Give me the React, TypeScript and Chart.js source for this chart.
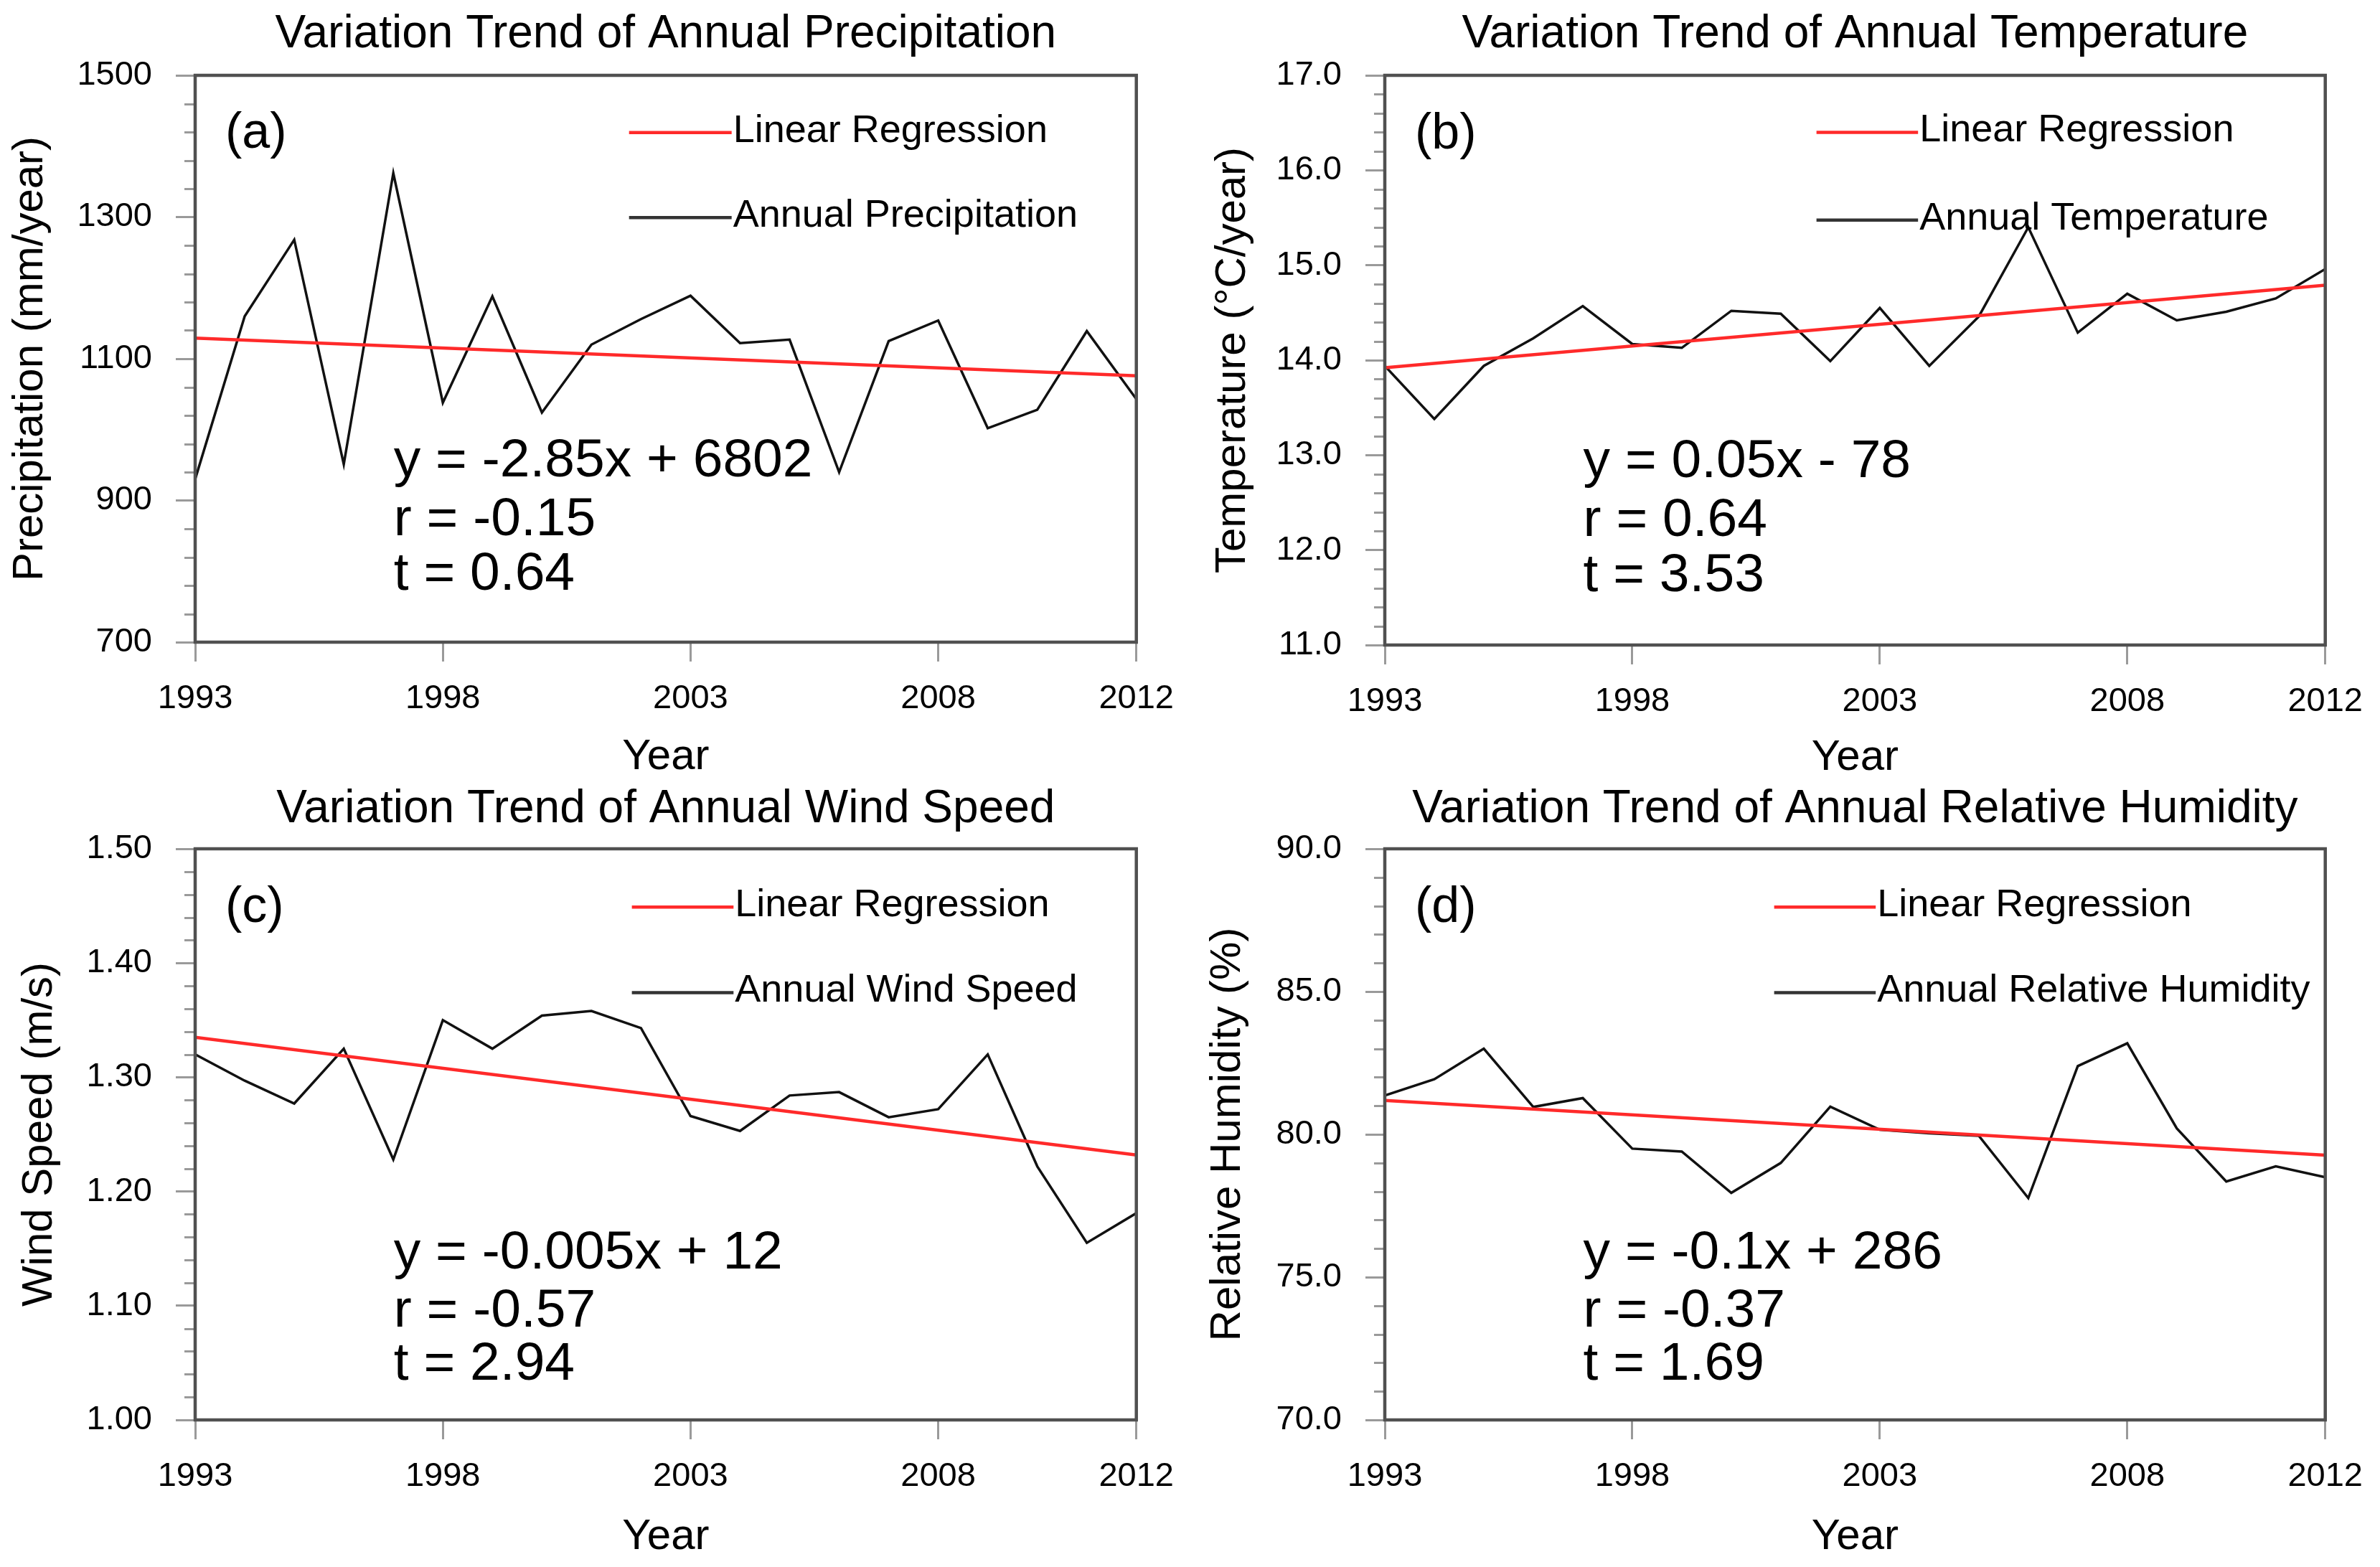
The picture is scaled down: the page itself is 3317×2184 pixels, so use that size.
import React, { useEffect, useRef } from 'react';
import { Chart, registerables } from 'chart.js';

Chart.register(...registerables);

// ---------------- data ----------------
const YEARS = [1993, 1994, 1995, 1996, 1997, 1998, 1999, 2000, 2001, 2002, 2003, 2004, 2005, 2006, 2007, 2008, 2009, 2010, 2011, 2012];
const X_TICKS = [1993, 1998, 2003, 2008, 2012];
const TREND_YEARS = [1993, 2012];

const PRECIP = [930, 1160, 1268, 951, 1362, 1038, 1188, 1024, 1120, 1156, 1189, 1122, 1127, 940, 1125, 1154, 1002, 1028, 1139, 1043];
const PRECIP_TREND = [1129, 1076];
const PRECIP_YTICKS = [700, 900, 1100, 1300, 1500];

const TEMP = [13.94, 13.38, 13.94, 14.23, 14.57, 14.17, 14.13, 14.52, 14.49, 13.99, 14.55, 13.94, 14.46, 15.4, 14.29, 14.7, 14.42, 14.51, 14.65, 14.96];
const TEMP_TREND = [13.92, 14.79];
const TEMP_YTICKS = [11, 12, 13, 14, 15, 16, 17];

const WIND = [1.32, 1.297, 1.277, 1.325, 1.228, 1.35, 1.325, 1.354, 1.358, 1.343, 1.266, 1.253, 1.284, 1.287, 1.265, 1.272, 1.32, 1.222, 1.155, 1.181];
const WIND_TREND = [1.335, 1.232];
const WIND_YTICKS = [1.0, 1.1, 1.2, 1.3, 1.4, 1.5];

const RH = [81.36, 81.93, 83.0, 80.96, 81.27, 79.5, 79.4, 77.95, 79.0, 80.97, 80.16, 80.04, 79.95, 77.77, 82.39, 83.19, 80.21, 78.35, 78.88, 78.5];
const RH_TREND = [81.19, 79.27];
const RH_YTICKS = [70, 75, 80, 85, 90];

// ---------------- layout / style ----------------
const FONT = "'Liberation Sans', Arial, Helvetica, sans-serif";
const TITLE_SIZE = 64;
const AXIS_TITLE_SIZE = 60;
const TICK_SIZE = 47;
const LEGEND_SIZE = 54;
const EQ_SIZE = 75;
const LABEL_SIZE = 70;
const RED = '#ff2a2a';
const BLACK = '#111111';
const FRAME = '#505050';
const TICK_GREY = '#9a9a9a';

type Panel = {
  tag: string;
  title: string;
  yTitle: string;
  seriesLabel: string;
  series: number[];
  trend: number[];
  yTicks: number[];
  dec: number;
  eq: string[];
  box: { cx: number; cy: number; w: number; h: number };
  plot: { l: number; r: number; t: number; b: number };
  titleY: number;
  yTitleX: number;
  xTitleY: number;
  leg: number[];
  eqY: number[];
};

const PANELS: Panel[] = [
  {
    tag: '(a)',
    title: 'Variation Trend of Annual Precipitation',
    yTitle: 'Precipitation (mm/year)',
    seriesLabel: 'Annual Precipitation',
    series: PRECIP,
    trend: PRECIP_TREND,
    yTicks: PRECIP_YTICKS,
    dec: 0,
    eq: ['y = -2.85x + 6802', 'r = -0.15', 't = 0.64'],
    box: { cx: 0, cy: 0, w: 1660, h: 1092 },
    plot: { l: 272, r: 1591, t: 105, b: 895 },
    titleY: 48,
    yTitleX: 42,
    xTitleY: 1055,
    leg: [0.461, 0.57, 0.101, 0.251],
    eqY: [0.708, 0.812, 0.908],
  },
  {
    tag: '(b)',
    title: 'Variation Trend of Annual Temperature',
    yTitle: 'Temperature (°C/year)',
    seriesLabel: 'Annual Temperature',
    series: TEMP,
    trend: TEMP_TREND,
    yTicks: TEMP_YTICKS,
    dec: 1,
    eq: ['y = 0.05x - 78', 'r = 0.64', 't = 3.53'],
    box: { cx: 1660, cy: 0, w: 1657, h: 1092 },
    plot: { l: 1930, r: 3257, t: 105, b: 899 },
    titleY: 48,
    yTitleX: 1718,
    xTitleY: 1059,
    leg: [0.459, 0.567, 0.1, 0.254],
    eqY: [0.705, 0.809, 0.905],
  },
  {
    tag: '(c)',
    title: 'Variation Trend of Annual Wind Speed',
    yTitle: 'Wind Speed (m/s)',
    seriesLabel: 'Annual Wind Speed',
    series: WIND,
    trend: WIND_TREND,
    yTicks: WIND_YTICKS,
    dec: 2,
    eq: ['y = -0.005x + 12', 'r = -0.57', 't = 2.94'],
    box: { cx: 0, cy: 1092, w: 1660, h: 1092 },
    plot: { l: 272, r: 1597, t: 1183, b: 1979 },
    titleY: 1128,
    yTitleX: 55,
    xTitleY: 2142,
    leg: [0.464, 0.572, 0.102, 0.252],
    eqY: [0.735, 0.837, 0.93],
  },
  {
    tag: '(d)',
    title: 'Variation Trend of Annual Relative Humidity',
    yTitle: 'Relative Humidity (%)',
    seriesLabel: 'Annual Relative Humidity',
    series: RH,
    trend: RH_TREND,
    yTicks: RH_YTICKS,
    dec: 1,
    eq: ['y = -0.1x + 286', 'r = -0.37', 't = 1.69'],
    box: { cx: 1660, cy: 1092, w: 1657, h: 1092 },
    plot: { l: 1930, r: 3257, t: 1183, b: 1979 },
    titleY: 1128,
    yTitleX: 1711,
    xTitleY: 2142,
    leg: [0.414, 0.522, 0.102, 0.252],
    eqY: [0.735, 0.837, 0.93],
  },
];

function makeOverlay(p: Panel) {
  return {
    id: 'overlay' + p.tag,
    afterDraw(chart: any) {
      const ctx = chart.ctx as CanvasRenderingContext2D;
      const a = chart.chartArea;
      const W = a.right - a.left;
      const H = a.bottom - a.top;
      const ys = chart.scales.y;
      ctx.save();
      // minor ticks on y axis
      ctx.strokeStyle = TICK_GREY;
      ctx.lineWidth = 3;
      for (let i = 0; i < p.yTicks.length - 1; i++) {
        const v0 = p.yTicks[i];
        const v1 = p.yTicks[i + 1];
        for (let k = 1; k < 5; k++) {
          const v = v0 + ((v1 - v0) * k) / 5;
          const py = Math.round(ys.getPixelForValue(v)) + 0.5;
          ctx.beginPath();
          ctx.moveTo(a.left - 15, py);
          ctx.lineTo(a.left, py);
          ctx.stroke();
        }
      }
      // frame
      ctx.strokeStyle = FRAME;
      ctx.lineWidth = 4.5;
      ctx.strokeRect(a.left, a.top, W, H);

      // panel tag
      ctx.fillStyle = '#000';
      ctx.textBaseline = 'alphabetic';
      ctx.textAlign = 'left';
      ctx.font = `${LABEL_SIZE}px ${FONT}`;
      ctx.fillText(p.tag, a.left + 0.032 * W, a.top + 0.128 * H);

      // legend
      const lx0 = a.left + p.leg[0] * W;
      const lx1 = a.left + p.leg[1] * W;
      const items = [
        { color: RED, width: 4.5, text: 'Linear Regression', y: a.top + p.leg[2] * H },
        { color: '#333', width: 4.5, text: p.seriesLabel, y: a.top + p.leg[3] * H },
      ];
      ctx.font = `${LEGEND_SIZE}px ${FONT}`;
      ctx.textBaseline = 'middle';
      for (const it of items) {
        ctx.strokeStyle = it.color;
        ctx.lineWidth = it.width;
        ctx.beginPath();
        ctx.moveTo(lx0, it.y);
        ctx.lineTo(lx1, it.y);
        ctx.stroke();
        ctx.fillStyle = '#000';
        ctx.fillText(it.text, lx1 + 2, it.y - 2);
      }

      // equation
      ctx.font = `${EQ_SIZE}px ${FONT}`;
      ctx.textBaseline = 'alphabetic';
      ctx.fillStyle = '#000';
      p.eq.forEach((s, i) => {
        ctx.fillText(s, a.left + 0.211 * W, a.top + p.eqY[i] * H);
      });
      ctx.restore();
    },
  };
}

function PanelChart({ p }: { p: Panel }) {
  const ref = useRef<HTMLCanvasElement | null>(null);
  useEffect(() => {
    if (!ref.current) return;
    const { cx, cy, w, h } = p.box;
    const titlePadTop = p.titleY - cy - (TITLE_SIZE * 1.2) / 2;
    const titlePadBottom = p.plot.t - cy - TITLE_SIZE * 1.2 - titlePadTop;
    const xTitlePadBottom = Math.max(0, cy + h - p.xTitleY - (AXIS_TITLE_SIZE * 1.2) / 2);
    const yTitlePadTop = Math.max(0, p.yTitleX - cx - (AXIS_TITLE_SIZE * 1.2) / 2);
    const yMin = p.yTicks[0];
    const yMax = p.yTicks[p.yTicks.length - 1];

    const chart = new Chart(ref.current, {
      type: 'line',
      data: {
        datasets: [
          {
            label: 'Linear Regression',
            data: TREND_YEARS.map((x, i) => ({ x, y: p.trend[i] })),
            borderColor: RED,
            borderWidth: 4.5,
            pointRadius: 0,
            tension: 0,
            order: 0,
          },
          {
            label: p.seriesLabel,
            data: YEARS.map((x, i) => ({ x, y: p.series[i] })),
            borderColor: BLACK,
            borderWidth: 3.5,
            pointRadius: 0,
            tension: 0,
            order: 1,
          },
        ],
      },
      options: {
        animation: false,
        responsive: false,
        devicePixelRatio: 1,
        layout: { padding: { left: 0, top: 0, bottom: 0, right: cx + w - p.plot.r } },
        plugins: {
          legend: { display: false },
          tooltip: { enabled: false },
          title: {
            display: true,
            text: p.title,
            fullSize: false,
            color: '#000',
            font: { family: FONT, size: TITLE_SIZE, weight: 'normal', lineHeight: 1.2 },
            padding: { top: titlePadTop, bottom: titlePadBottom },
          },
        },
        scales: {
          x: {
            type: 'linear',
            min: YEARS[0],
            max: YEARS[YEARS.length - 1],
            afterBuildTicks: (s: any) => {
              s.ticks = X_TICKS.map((v) => ({ value: v }));
            },
            afterFit: (s: any) => {
              s.height = cy + h - p.plot.b;
            },
            grid: { drawOnChartArea: false, drawTicks: true, tickLength: 27, tickColor: TICK_GREY, tickWidth: 3 },
            border: { display: false },
            ticks: {
              padding: 24,
              autoSkip: false,
              maxRotation: 0,
              color: '#000',
              font: { family: FONT, size: TICK_SIZE, lineHeight: 1.2 },
              callback: (v: any) => String(v),
            },
            title: {
              display: true,
              text: 'Year',
              color: '#000',
              font: { family: FONT, size: AXIS_TITLE_SIZE, lineHeight: 1.2 },
              padding: { top: 0, bottom: xTitlePadBottom },
            },
          },
          y: {
            type: 'linear',
            min: yMin,
            max: yMax,
            afterBuildTicks: (s: any) => {
              s.ticks = p.yTicks.map((v) => ({ value: v }));
            },
            afterFit: (s: any) => {
              s.width = p.plot.l - cx;
            },
            grid: { drawOnChartArea: false, drawTicks: true, tickLength: 27, tickColor: TICK_GREY, tickWidth: 3 },
            border: { display: false },
            ticks: {
              padding: 33,
              color: '#000',
              font: { family: FONT, size: TICK_SIZE, lineHeight: 1.2 },
              callback: (v: any) => Number(v).toFixed(p.dec),
            },
            title: {
              display: true,
              text: p.yTitle,
              color: '#000',
              font: { family: FONT, size: AXIS_TITLE_SIZE, lineHeight: 1.2 },
              padding: { top: yTitlePadTop, bottom: 0 },
            },
          },
        },
      } as any,
      plugins: [makeOverlay(p)],
    });
    return () => chart.destroy();
  }, [p]);

  const { cx, cy, w, h } = p.box;
  return (
    <canvas
      ref={ref}
      width={w}
      height={h}
      style={{ position: 'absolute', left: cx, top: cy, width: w, height: h }}
    />
  );
}

export default function App() {
  return (
    <div style={{ position: 'absolute', left: 0, top: 0, width: 3317, height: 2184, background: '#ffffff', overflow: 'hidden' }}>
      {PANELS.map((p) => (
        <PanelChart key={p.tag} p={p} />
      ))}
    </div>
  );
}
